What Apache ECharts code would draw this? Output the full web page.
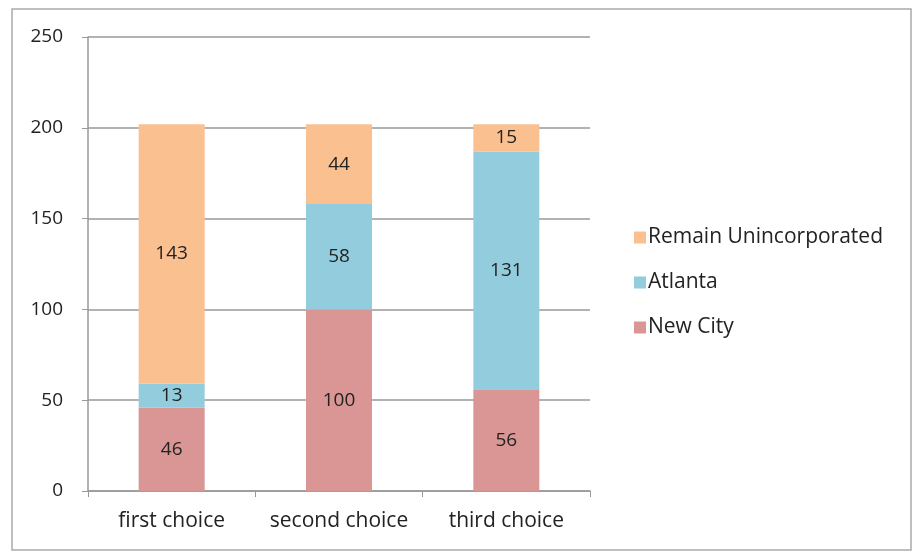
<!DOCTYPE html>
<html>
<head>
<meta charset="utf-8">
<script src="https://cdn.jsdelivr.net/npm/echarts@6/dist/echarts.min.js"></script>
<style>
html,body{margin:0;padding:0;background:#fff;}
#chart{width:914px;height:554px;}
</style>
</head>
<body>
<div id="chart"></div>
<script>
var categories = ['first choice', 'second choice', 'third choice'];
var seriesNames = ['New City', 'Atlanta', 'Remain Unincorporated'];
var newCity = [46, 100, 56];
var atlanta = [13, 58, 131];
var remain = [143, 44, 15];
var yTicks = [0, 50, 100, 150, 200, 250];

var colors = ['#D99694', '#93CDDD', '#FAC090'];
var chart = echarts.init(document.getElementById('chart'));

function mk(name, data, color) {
  return {
    name: name,
    type: 'bar',
    stack: 'total',
    data: data,
    barWidth: 66,
    itemStyle: { color: color },
    label: {
      show: true,
      position: 'inside',
      fontFamily: 'Open Sans',
      fontSize: 19,
      color: '#222'
    }
  };
}

chart.setOption({
  animation: false,
  grid: { left: 88, right: 324, top: 37, bottom: 63 },
  legend: {
    orient: 'vertical',
    left: 629,
    top: 222,
    itemWidth: 12,
    itemHeight: 12,
    itemGap: 24,
    icon: 'rect',
    data: [seriesNames[2], seriesNames[1], seriesNames[0]],
    textStyle: { fontFamily: 'Open Sans', fontSize: 21, color: '#222', padding: [0, 0, 0, -3] }
  },
  xAxis: {
    type: 'category',
    data: categories,
    axisLine: { lineStyle: { color: '#999', width: 1.5 } },
    axisTick: { show: true, alignWithLabel: false, length: 6, lineStyle: { color: '#999' } },
    axisLabel: { interval: 0, hideOverlap: false, fontFamily: 'Open Sans', fontSize: 21, color: '#222', margin: 20 }
  },
  yAxis: {
    type: 'value',
    min: yTicks[0],
    max: yTicks[yTicks.length - 1],
    interval: 50,
    axisLine: { show: true, lineStyle: { color: '#999', width: 1.5 } },
    axisTick: { show: true, length: 6, lineStyle: { color: '#999' } },
    splitLine: { lineStyle: { color: '#999', width: 1.5 } },
    axisLabel: { fontFamily: 'Open Sans', fontSize: 19, color: '#222', margin: 25 }
  },
  graphic: [{
    type: 'rect',
    shape: { x: 12, y: 9, width: 899, height: 541 },
    style: { fill: 'none', stroke: '#aaa', lineWidth: 1.5 },
    silent: true
  }],
  series: [
    mk(seriesNames[0], newCity, colors[0]),
    mk(seriesNames[1], atlanta, colors[1]),
    mk(seriesNames[2], remain, colors[2])
  ]
});
</script>
</body>
</html>
